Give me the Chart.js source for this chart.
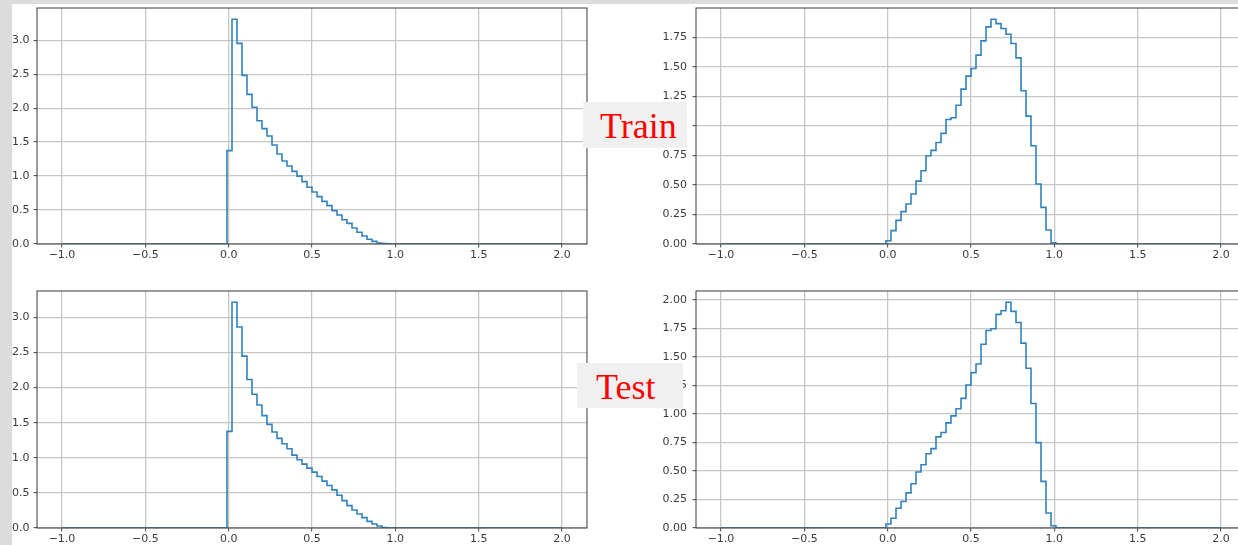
<!DOCTYPE html>
<html><head><meta charset="utf-8">
<script src="https://cdn.jsdelivr.net/npm/chart.js@4.4.1/dist/chart.umd.min.js"></script>
<style>
html,body{margin:0;padding:0;background:#fff;overflow:hidden;}
#fig{position:relative;width:1238px;height:545px;overflow:hidden;background:#fff;}
canvas{position:absolute;}
.strip{position:absolute;background:#dcdcdc;}
.tag{position:absolute;background:#f0f0f0;}
.tag span{position:absolute;font-family:"Liberation Serif","Times New Roman",serif;font-size:36px;line-height:36px;color:#ff0000;white-space:nowrap;}
</style></head><body>
<div id="fig">
<canvas id="tl" width="591" height="262" style="left:0px;top:0px"></canvas>
<canvas id="tr" width="604" height="262" style="left:646px;top:0px"></canvas>
<canvas id="bl" width="591" height="263" style="left:0px;top:283px"></canvas>
<canvas id="br" width="604" height="263" style="left:646px;top:283px"></canvas>
<div class="strip" style="left:0;top:0;width:12px;height:545px"></div>
<div class="strip" style="left:0;top:0;width:1238px;height:4px"></div>
<div class="tag" style="left:583px;top:102px;width:104px;height:46px"><span style="left:17px;top:6px">Train</span></div>
<div class="tag" style="left:577px;top:363px;width:106px;height:45px"><span style="left:19px;top:6px">Test</span></div>
</div>
<script>
// Histogram bins: 100 bins of width 0.03 from -1.0 to 2.0 (density)
const binStart = -1.0;
const binWidth = 0.03;
const binCount = 100;
const firstFilledBin = 33; // bin [-0.01, 0.02]

// Train (top row) and Test (bottom row) densities, starting at firstFilledBin
const trainLeft = [1.375, 3.31, 2.955, 2.484, 2.204, 2.013, 1.816, 1.699, 1.59, 1.458, 1.325, 1.222, 1.149, 1.07, 1.0, 0.918, 0.835, 0.766, 0.697, 0.628, 0.565, 0.491, 0.427, 0.358, 0.304, 0.236, 0.172, 0.118, 0.069, 0.039, 0.015, 0.005];
const trainRight = [0.028, 0.113, 0.2, 0.274, 0.339, 0.423, 0.533, 0.62, 0.748, 0.793, 0.86, 0.937, 1.055, 1.069, 1.176, 1.312, 1.422, 1.487, 1.6, 1.721, 1.839, 1.904, 1.867, 1.825, 1.777, 1.698, 1.577, 1.298, 1.083, 0.832, 0.508, 0.31, 0.118, 0.01];
const testLeft = [1.376, 3.214, 2.862, 2.448, 2.114, 1.905, 1.752, 1.6, 1.476, 1.367, 1.276, 1.2, 1.129, 1.038, 0.971, 0.91, 0.852, 0.795, 0.733, 0.667, 0.605, 0.543, 0.467, 0.39, 0.319, 0.257, 0.2, 0.148, 0.095, 0.057, 0.029, 0.005];
const testRight = [0.035, 0.085, 0.173, 0.232, 0.308, 0.387, 0.49, 0.554, 0.651, 0.695, 0.798, 0.836, 0.921, 0.982, 1.044, 1.135, 1.252, 1.361, 1.437, 1.61, 1.73, 1.745, 1.871, 1.903, 1.977, 1.897, 1.8, 1.619, 1.399, 1.091, 0.748, 0.408, 0.132, 0.02];

// Tick labels
const xTicks = [-1.0, -0.5, 0.0, 0.5, 1.0, 1.5, 2.0];
const yTicksLeft = [0.0, 0.5, 1.0, 1.5, 2.0, 2.5, 3.0];
const yTicksTrainRight = [0.0, 0.25, 0.5, 0.75, 1.0, 1.25, 1.5, 1.75];
const yTicksTestRight = [0.0, 0.25, 0.5, 0.75, 1.0, 1.25, 1.5, 1.75, 2.0];

function fullHeights(filled) {
  const h = new Array(binCount).fill(0);
  filled.forEach((v, i) => { h[firstFilledBin + i] = v; });
  return h;
}
function stepPoints(h) {
  const pts = [{x: binStart, y: 0}];
  for (let i = 0; i < binCount; i++) pts.push({x: binStart + i * binWidth, y: h[i]});
  const end = binStart + binCount * binWidth;
  pts.push({x: end, y: h[binCount - 1]});
  pts.push({x: end, y: 0});
  return pts;
}
function fmtX(v) {
  const s = Math.abs(v).toFixed(1);
  return v < 0 ? '\u2212' + s : s;
}

const framePlugin = {
  id: 'frame',
  afterDatasetsDraw(chart) {
    const {ctx, chartArea: a} = chart;
    ctx.save();
    ctx.strokeStyle = '#3a3a3a';
    ctx.lineWidth = 1;
    ctx.strokeRect(a.left, a.top, a.right - a.left, a.bottom - a.top);
    ctx.restore();
  }
};

const tickFont = {family: '"DejaVu Sans", sans-serif', size: 11};
const gridColor = '#c6c6c6';

function makeHist(id, filled, yTicks, decimals, yAxisWidth, yPad) {
  const h = fullHeights(filled);
  const yMax = Math.max(...h) * 1.05;
  const xMin = binStart - 0.05 * binCount * binWidth;
  const xMax = binStart + binCount * binWidth + 0.05 * binCount * binWidth;
  new Chart(document.getElementById(id), {
    type: 'line',
    data: {
      datasets: [{
        data: stepPoints(h),
        stepped: true,
        borderColor: '#3282bf',
        borderWidth: 1.6,
        pointRadius: 0,
        fill: false,
        tension: 0
      }]
    },
    options: {
      responsive: false,
      animation: false,
      devicePixelRatio: 1,
      layout: {padding: {top: 8, right: 4, left: 0, bottom: 0}},
      plugins: {legend: {display: false}, tooltip: {enabled: false}},
      scales: {
        x: {
          type: 'linear',
          min: xMin, max: xMax,
          bounds: 'data',
          afterBuildTicks: s => { s.ticks = xTicks.map(v => ({value: v})); },
          afterFit: s => { s.height = 18; s.paddingLeft = 0; s.paddingRight = 0; },
          ticks: {autoSkip: false, maxRotation: 0, padding: 1, color: '#3b3b3b', font: tickFont,
                  callback: v => fmtX(v)},
          grid: {color: gridColor, lineWidth: 1.3, tickColor: '#444', tickLength: 3.5, tickWidth: 1},
          border: {display: false}
        },
        y: {
          type: 'linear',
          min: 0, max: yMax,
          bounds: 'data',
          afterBuildTicks: s => { s.ticks = yTicks.map(v => ({value: v})); },
          afterFit: s => { s.width = yAxisWidth; s.paddingTop = 0; s.paddingBottom = 0; },
          ticks: {autoSkip: false, padding: yPad, color: '#3b3b3b', font: tickFont,
                  callback: v => Number(v).toFixed(decimals)},
          grid: {color: gridColor, lineWidth: 1.3, tickColor: '#444', tickLength: 3.5, tickWidth: 1},
          border: {display: false}
        }
      }
    },
    plugins: [framePlugin]
  });
}

makeHist('tl', trainLeft, yTicksLeft, 1, 37, 4);
makeHist('tr', trainRight, yTicksTrainRight, 2, 50, 5.5);
makeHist('bl', testLeft, yTicksLeft, 1, 37, 4);
makeHist('br', testRight, yTicksTestRight, 2, 50, 5.5);
</script>
</body></html>
